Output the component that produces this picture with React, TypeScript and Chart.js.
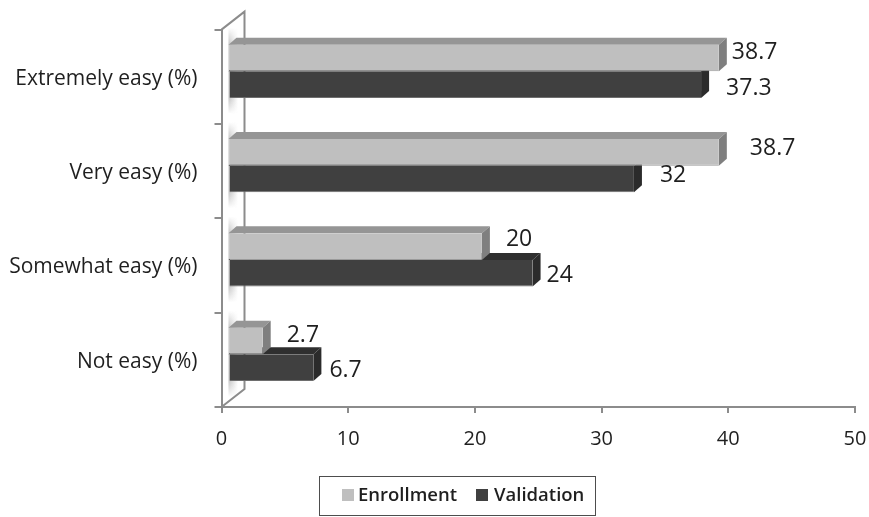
import React, { useEffect, useRef } from "react";
import { Chart, registerables } from "chart.js";

Chart.register(...registerables);

const categories = ["Extremely easy (%)", "Very easy (%)", "Somewhat easy (%)", "Not easy (%)"];
const enrollment = [38.7, 38.7, 20, 2.7];
const validation = [37.3, 32, 24, 6.7];
const enrollmentLabels = ["38.7", "38.7", "20", "2.7"];
const validationLabels = ["37.3", "32", "24", "6.7"];

// Hand-placed label nudges relative to the front end of each bar: [dx, dy]
const enrollmentNudge = [[13, -6], [31, -4], [24, -7.5], [24, -6]];
const validationNudge = [[25, 3.5], [26, -3], [14, 2], [16, 2.5]];

const AXIS_COLOR = "#8c8c8c";
const TEXT_COLOR = "#1f1f1f";
const FONT = "'Open Sans'";

// Bars sit forward on the chart floor, away from the axis plane
const BAR_SHIFT_X = 7;
const BAR_SHIFT_Y = -5.5;
// Depth of each bar's box and of the back wall
const BAR_DEPTH_X = 8;
const BAR_DEPTH_Y = -7;
const WALL_DEPTH_X = 23;
const WALL_DEPTH_Y = -18;

type Faces = { top: string; side: string };
const faces: Faces[] = [
  { top: "#959595", side: "#7f7f7f" },
  { top: "#2f2f2f", side: "#2b2b2b" },
];

function polygon(ctx: CanvasRenderingContext2D, pts: number[][], fill: string) {
  ctx.beginPath();
  pts.forEach(([x, y], i) => (i ? ctx.lineTo(x, y) : ctx.moveTo(x, y)));
  ctx.closePath();
  ctx.fillStyle = fill;
  ctx.fill();
}

const wallPlugin = {
  id: "wall",
  beforeDatasetsDraw(chart: any) {
    const { ctx, chartArea: a } = chart;
    ctx.save();
    ctx.strokeStyle = AXIS_COLOR;
    ctx.lineWidth = 2;
    ctx.beginPath();
    ctx.moveTo(a.left, a.top);
    ctx.lineTo(a.left + WALL_DEPTH_X, a.top + WALL_DEPTH_Y);
    ctx.lineTo(a.left + WALL_DEPTH_X, a.bottom + WALL_DEPTH_Y);
    ctx.lineTo(a.left, a.bottom);
    ctx.stroke();

    // Soft shadow the bars cast on the wall, fading away above and below each pair
    const light = chart.getDatasetMeta(0).data;
    const dark = chart.getDatasetMeta(1).data;
    light.forEach((bar: any, i: number) => {
      const top = bar.y - bar.height / 2 + BAR_SHIFT_Y;
      const bottom = dark[i].y + dark[i].height / 2 + BAR_SHIFT_Y;
      const x0 = a.left + BAR_SHIFT_X;
      for (let c = 0; c < 9; c++) {
        const alpha = 0.5 * (1 - c / 9);
        const g = ctx.createLinearGradient(0, top - 17, 0, bottom + 16);
        const span = bottom - top + 33;
        g.addColorStop(0, "rgba(130,130,130,0)");
        g.addColorStop(17 / span, `rgba(130,130,130,${alpha})`);
        g.addColorStop(1 - 16 / span, `rgba(130,130,130,${alpha})`);
        g.addColorStop(1, "rgba(130,130,130,0)");
        ctx.fillStyle = g;
        ctx.fillRect(x0 + c, top - 17, 1, span);
      }
    });
    ctx.restore();
  },
  beforeDatasetDraw(chart: any, args: any) {
    const { ctx, chartArea: a } = chart;
    ctx.save();
    ctx.translate(BAR_SHIFT_X, BAR_SHIFT_Y);
    const style = faces[args.index];
    args.meta.data.forEach((bar: any) => {
      const top = bar.y - bar.height / 2;
      const bottom = bar.y + bar.height / 2;
      polygon(ctx, [
        [a.left, top],
        [a.left + BAR_DEPTH_X, top + BAR_DEPTH_Y],
        [bar.x + BAR_DEPTH_X, top + BAR_DEPTH_Y],
        [bar.x, top],
      ], style.top);
      polygon(ctx, [
        [bar.x, top],
        [bar.x + BAR_DEPTH_X, top + BAR_DEPTH_Y],
        [bar.x + BAR_DEPTH_X, bottom + BAR_DEPTH_Y],
        [bar.x, bottom],
      ], style.side);
    });
  },
  afterDatasetDraw(chart: any) {
    chart.ctx.restore();
  },
  afterDatasetsDraw(chart: any) {
    const { ctx } = chart;
    ctx.save();
    ctx.font = `23px ${FONT}`;
    ctx.fillStyle = TEXT_COLOR;
    ctx.textBaseline = "middle";
    ctx.textAlign = "left";
    const put = (idx: number, labels: string[], nudge: number[][]) => {
      chart.getDatasetMeta(idx).data.forEach((bar: any, i: number) => {
        ctx.fillText(labels[i], bar.x + BAR_SHIFT_X + nudge[i][0], bar.y + BAR_SHIFT_Y + nudge[i][1]);
      });
    };
    put(0, enrollmentLabels, enrollmentNudge);
    put(1, validationLabels, validationNudge);

    // Boxed legend under the axis
    ctx.strokeStyle = "#4d4d4d";
    ctx.lineWidth = 1;
    ctx.strokeRect(319.5, 476.5, 276, 39);
    ctx.font = `600 18.5px ${FONT}`;
    ctx.fillStyle = "#bfbfbf";
    ctx.fillRect(342, 489, 12, 12);
    ctx.fillStyle = "#404040";
    ctx.fillRect(476, 489, 12, 12);
    ctx.fillStyle = TEXT_COLOR;
    ctx.fillText("Enrollment", 358, 496);
    ctx.fillText("Validation", 494, 496);
    ctx.restore();
  },
};

export default function App() {
  const ref = useRef<HTMLCanvasElement>(null);

  useEffect(() => {
    const chart = new Chart(ref.current!, {
      type: "bar",
      data: {
        labels: categories,
        datasets: [
          {
            label: "Enrollment",
            data: enrollment,
            backgroundColor: "#bfbfbf",
            borderColor: "#9a9a9a",
            borderWidth: { top: 0, right: 0, bottom: 1, left: 0 },
            borderSkipped: false,
          },
          {
            label: "Validation",
            data: validation,
            backgroundColor: "#404040",
            borderColor: "#6e6e6e",
            borderWidth: { top: 0, right: 0, bottom: 1, left: 0 },
            borderSkipped: false,
          },
        ],
      },
      options: {
        indexAxis: "y",
        responsive: false,
        animation: false,
        barPercentage: 1,
        categoryPercentage: 0.5646,
        layout: { padding: { left: 0, top: 28, right: 14, bottom: 50 } },
        plugins: { legend: { display: false }, tooltip: { enabled: false } },
        scales: {
          x: {
            min: 0,
            max: 50,
            afterFit: (s: any) => { s.height = 60; s.paddingRight = 0; s.paddingLeft = 0; },
            ticks: { stepSize: 10, color: TEXT_COLOR, font: { family: FONT, size: 20 }, padding: 14, maxRotation: 0 },
            grid: { drawOnChartArea: false, color: AXIS_COLOR, tickColor: AXIS_COLOR, tickLength: 6, lineWidth: 2 },
            border: { color: AXIS_COLOR, width: 2 },
          },
          y: {
            afterFit: (s: any) => { s.width = 221.5; },
            ticks: { color: TEXT_COLOR, font: { family: FONT, size: 21 }, padding: 17, labelOffset: 2 },
            grid: { drawOnChartArea: false, offset: true, color: AXIS_COLOR, tickColor: AXIS_COLOR, tickLength: 7, lineWidth: 2 },
            border: { color: AXIS_COLOR, width: 2 },
          },
        },
      } as any,
      plugins: [wallPlugin],
    });
    return () => chart.destroy();
  }, []);

  return (
    <div style={{ position: "fixed", left: 0, top: 0, background: "#fff" }}>
      <canvas ref={ref} width={869} height={517} style={{ display: "block" }} />
    </div>
  );
}
